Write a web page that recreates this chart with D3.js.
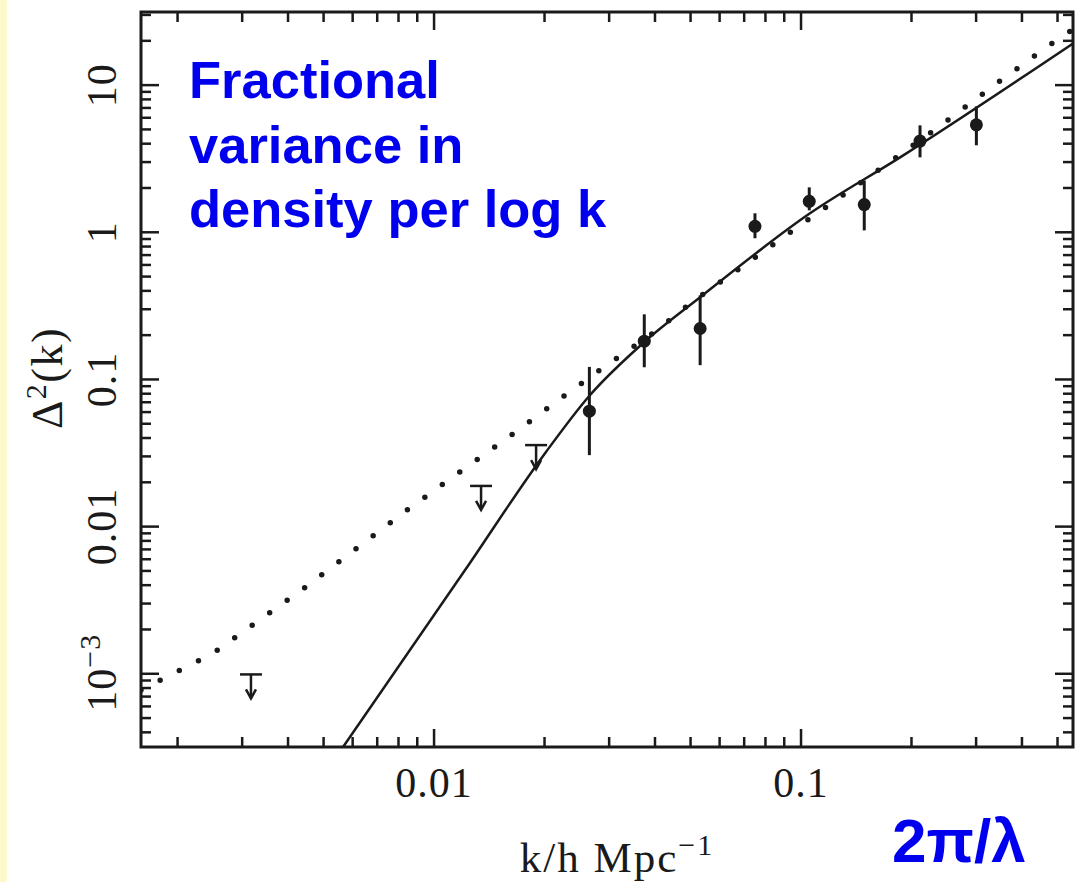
<!DOCTYPE html>
<html>
<head>
<meta charset="utf-8">
<script src="https://cdn.jsdelivr.net/npm/d3@7"></script>
<style>
  html, body { margin: 0; padding: 0; background: #ffffff; }
  svg { display: block; }
</style>
</head>
<body>
<svg id="chart" width="1079" height="882"></svg>
<script>
// ---- data ----
const xMajorTicks = [0.01, 0.1];
const xTickLabels = ["0.01", "0.1"];
const yMajorTicks = [0.001, 0.01, 0.1, 1, 10];
const yTickLabels = ["10^-3", "0.01", "0.1", "1", "10"];

// measured points with error bars
const pointK  = [0.0265, 0.0374, 0.0531, 0.0749, 0.1053, 0.1487, 0.211, 0.3005];
const pointD  = [0.0609, 0.182, 0.222, 1.098, 1.624, 1.542, 4.17, 5.37];
const pointLo = [0.0306, 0.121, 0.125, 0.911, 1.41, 1.03, 3.23, 3.90];
const pointHi = [0.1217, 0.277, 0.373, 1.346, 2.02, 2.25, 5.33, 7.17];

// upper limits
const limitK = [0.00317, 0.01343, 0.01897];
const limitD = [0.00099, 0.0189, 0.0358];

// solid model curve
const solidK = [0.00565, 0.01215, 0.02007, 0.02644, 0.03735, 0.0531, 0.1058, 0.1862, 0.551];
const solidD = [3.18e-4, 5.07e-3, 0.03156, 0.0769, 0.179, 0.362, 1.346, 3.23, 19.2];

// dotted model curve
const dotK = [0.00159, 0.0025, 0.00441, 0.00843, 0.01663, 0.02317, 0.029, 0.0405, 0.0508, 0.0641, 0.0894, 0.1254, 0.177, 0.2466, 0.344, 0.483, 0.551];
const dotD = [7.76e-4, 1.38e-3, 3.8e-3, 0.01294, 0.0438, 0.0807, 0.121, 0.216, 0.340, 0.511, 0.925, 1.675, 3.08, 5.58, 10.44, 19.2, 23.9];

const xDomain = [0.00159, 0.551];
const yDomain = [3.18e-4, 31.4];

const blueLines = ["Fractional", "variance in", "density per log k"];
const cornerLabel = "2π/λ";

// ---- drawing ----
const svg = d3.select("#chart");
const L = 141, R = 1073, T = 12, B = 747;
const ink = "#1a1a1a";

svg.append("rect").attr("x", 0).attr("y", 0).attr("width", 1079).attr("height", 882).attr("fill", "#ffffff");
svg.append("rect").attr("x", 0).attr("y", 0).attr("width", 7).attr("height", 882).attr("fill", "#fdf9cc");

const x = d3.scaleLog().domain(xDomain).range([L, R]);
const y = d3.scaleLog().domain(yDomain).range([B, T]);

svg.append("defs").append("clipPath").attr("id", "clip")
  .append("rect").attr("x", L).attr("y", T).attr("width", R - L).attr("height", B - T);

function logTicks(domain) {
  const out = [];
  const lo = Math.floor(Math.log10(domain[0])), hi = Math.ceil(Math.log10(domain[1]));
  for (let e = lo; e <= hi; e++) {
    for (let m = 1; m <= 9; m++) {
      const v = m * Math.pow(10, e);
      if (v >= domain[0] * 1.0001 && v <= domain[1] * 0.9999) out.push({ v, major: m === 1 });
    }
  }
  return out;
}
const xt = logTicks(xDomain), yt = logTicks(yDomain);
const majLen = 18, minLen = 10;

const axes = svg.append("g").attr("stroke", ink).attr("stroke-width", 2.5).attr("fill", "none");
xt.forEach(t => {
  const len = t.major ? majLen : minLen;
  axes.append("line").attr("x1", x(t.v)).attr("x2", x(t.v)).attr("y1", B).attr("y2", B - len);
  axes.append("line").attr("x1", x(t.v)).attr("x2", x(t.v)).attr("y1", T).attr("y2", T + len);
});
yt.forEach(t => {
  const len = t.major ? majLen : minLen;
  axes.append("line").attr("y1", y(t.v)).attr("y2", y(t.v)).attr("x1", L).attr("x2", L + len);
  axes.append("line").attr("y1", y(t.v)).attr("y2", y(t.v)).attr("x1", R).attr("x2", R - len);
});
svg.append("rect").attr("x", L).attr("y", T).attr("width", R - L).attr("height", B - T)
  .attr("fill", "none").attr("stroke", ink).attr("stroke-width", 3);

// tick labels
const serif = "'Liberation Serif', 'Times New Roman', serif";
xMajorTicks.forEach((v, i) => {
  svg.append("text").attr("x", x(v)).attr("y", 797).attr("text-anchor", "middle")
    .attr("font-family", serif).attr("font-size", 42).attr("letter-spacing", 1).attr("fill", ink).text(xTickLabels[i]);
});
yMajorTicks.forEach((v, i) => {
  const lab = yTickLabels[i];
  const t = svg.append("text").attr("font-family", serif).attr("font-size", 42)
    .attr("letter-spacing", 1).attr("fill", ink);
  if (lab.indexOf("^") >= 0) {
    const parts = lab.split("^");
    t.attr("transform", `translate(116,${y(v) + 38}) rotate(-90)`).attr("text-anchor", "start");
    t.append("tspan").text(parts[0]);
    t.append("tspan").attr("dy", -16).attr("font-size", 30).text(parts[1].replace("-", "\u2212"));
  } else {
    t.attr("transform", `translate(116,${y(v)}) rotate(-90)`).attr("text-anchor", "middle").text(lab);
  }
});

// axis titles
const yt1 = svg.append("text").attr("transform", "translate(62,378) rotate(-90)").attr("text-anchor", "middle")
  .attr("font-family", serif).attr("font-size", 44).attr("letter-spacing", 1.5).attr("fill", ink);
yt1.append("tspan").text("\u0394");
yt1.append("tspan").attr("dy", -16).attr("font-size", 30).text("2");
yt1.append("tspan").attr("dy", 16).text("(k)");

const xt1 = svg.append("text").attr("x", 617).attr("y", 872).attr("text-anchor", "middle")
  .attr("font-family", serif).attr("font-size", 43).attr("letter-spacing", 2).attr("fill", ink);
xt1.append("tspan").text("k/h Mpc");
xt1.append("tspan").attr("dy", -17).attr("font-size", 30).text("\u22121");

// curves
const plot = svg.append("g").attr("clip-path", "url(#clip)");
const dotLine = d3.line().x(d => x(d[0])).y(d => y(d[1]));
const solidLine = d3.line().x(d => x(d[0])).y(d => y(d[1])).curve(d3.curveMonotoneX);
plot.append("path").datum(dotK.map((k, i) => [k, dotD[i]]))
  .attr("d", dotLine).attr("fill", "none").attr("stroke", ink).attr("stroke-width", 5.5)
  .attr("stroke-linecap", "round").attr("stroke-dasharray", "0 21.5");
plot.append("path").datum(solidK.map((k, i) => [k, solidD[i]]))
  .attr("d", solidLine).attr("fill", "none").attr("stroke", ink).attr("stroke-width", 2.5);

// error bars + points
pointK.forEach((k, i) => {
  plot.append("line").attr("x1", x(k)).attr("x2", x(k)).attr("y1", y(pointLo[i])).attr("y2", y(pointHi[i]))
    .attr("stroke", ink).attr("stroke-width", 3);
  plot.append("circle").attr("cx", x(k)).attr("cy", y(pointD[i])).attr("r", 6.5).attr("fill", ink);
});

// upper limits
limitK.forEach((k, i) => {
  const cx = x(k), cy = y(limitD[i]);
  const g = plot.append("g").attr("stroke", ink).attr("stroke-width", 2.5).attr("fill", "none");
  g.append("line").attr("x1", cx - 11).attr("x2", cx + 11).attr("y1", cy).attr("y2", cy);
  g.append("line").attr("x1", cx).attr("x2", cx).attr("y1", cy).attr("y2", cy + 23);
  g.append("path").attr("d", `M${cx - 5},${cy + 15} L${cx},${cy + 24} L${cx + 5},${cy + 15}`);
});

// blue annotations
const sans = "'Liberation Sans', Arial, sans-serif";
blueLines.forEach((s, i) => {
  svg.append("text").attr("x", 189).attr("y", 98 + i * 64.5)
    .attr("font-family", sans).attr("font-weight", "bold").attr("font-size", 52.5)
    .attr("fill", "#0000ee").text(s);
});
svg.append("text").attr("x", 892).attr("y", 862)
  .attr("font-family", sans).attr("font-weight", "bold").attr("font-size", 62)
  .attr("fill", "#0000ee").text(cornerLabel);
</script>
</body>
</html>
